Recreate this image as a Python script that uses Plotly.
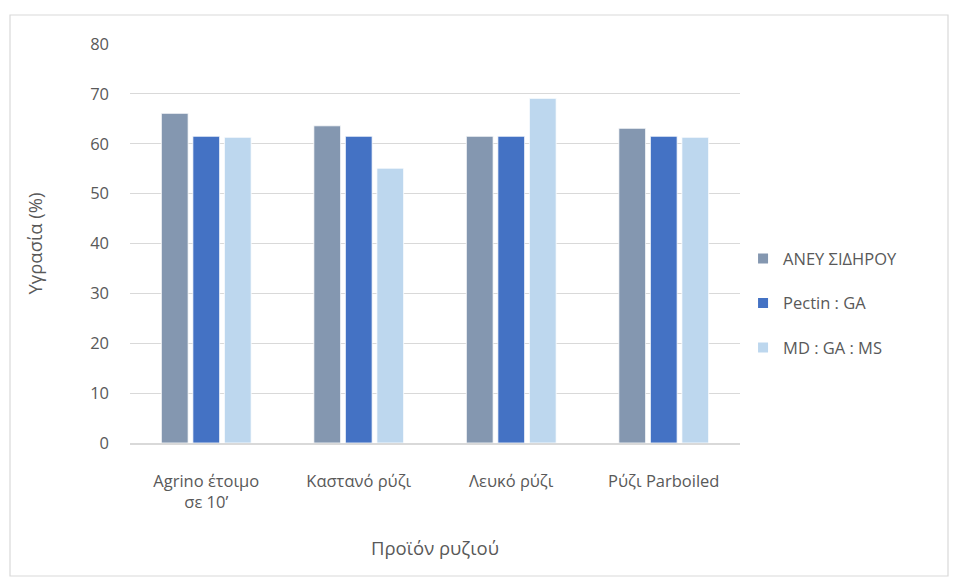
import plotly.graph_objects as go

# Rice products and moisture content (%) per iron formulation
categories = ["Agrino έτοιμο<br>σε 10’", "Καστανό ρύζι", "Λευκό ρύζι", "Ρύζι Parboiled"]
series_names = ["ΑΝΕΥ ΣΙΔΗΡΟΥ", "Pectin : GA", "MD : GA : MS"]
aney = [66.1, 63.6, 61.5, 63.1]
pectin = [61.5, 61.5, 61.5, 61.5]
md_ga_ms = [61.3, 55.1, 69.1, 61.3]
y_ticks = [0, 10, 20, 30, 40, 50, 60, 70, 80]

colors = ["#8497B0", "#4472C4", "#BDD7EE"]
font_family = "Open Sans, Noto Sans, sans-serif"
text_color = "#595959"

fig = go.Figure()
for name, vals, col in zip(series_names, [aney, pectin, md_ga_ms], colors):
    fig.add_trace(go.Bar(
        x=categories, y=vals, name=name, legendgroup=name,
        marker=dict(color=col, line=dict(color="white", width=0.8)),
    ))

fig.update_layout(
    width=958, height=582,
    margin=dict(l=130, r=218, t=44, b=139),
    paper_bgcolor="white", plot_bgcolor="white",
    barmode="group", bargap=0.38, bargroupgap=0.15,
    font=dict(family=font_family, color=text_color, size=16),
    showlegend=True,
    legend=dict(
        x=1.005, y=0.35, xanchor="left", yanchor="middle",
        font=dict(size=16.5, color=text_color),
        tracegroupgap=20, itemsizing="constant",
        traceorder="grouped", itemwidth=30,
        bgcolor="rgba(0,0,0,0)",
    ),
    xaxis=dict(
        showline=True, linecolor="#d9d9d9", linewidth=1.5,
        showgrid=False, ticks="",
        ticklabelstandoff=22,
        tickfont=dict(size=16.5, color=text_color),
        title=dict(text="Προϊόν ρυζιού", font=dict(size=18.5, color=text_color), standoff=30),
    ),
    yaxis=dict(
        range=[0, 80], tickvals=y_ticks,
        showgrid=True, gridcolor="#d9d9d9", gridwidth=1,
        showline=False, zeroline=False, ticks="",
        ticklabelstandoff=20,
        tickfont=dict(size=16.5, color=text_color),
        title=dict(text="Υγρασία (%)", font=dict(size=18.5, color=text_color), standoff=42),
    ),
)

# chart frame
fig.add_shape(
    type="rect", xref="paper", yref="paper",
    x0=-120 / 610, x1=(948 - 130) / 610,
    y0=-(576 - 443) / 399, y1=(443 - 15) / 399,
    line=dict(color="#d9d9d9", width=1.2), fillcolor="rgba(0,0,0,0)", layer="below",
)

fig.write_html("out.html")
